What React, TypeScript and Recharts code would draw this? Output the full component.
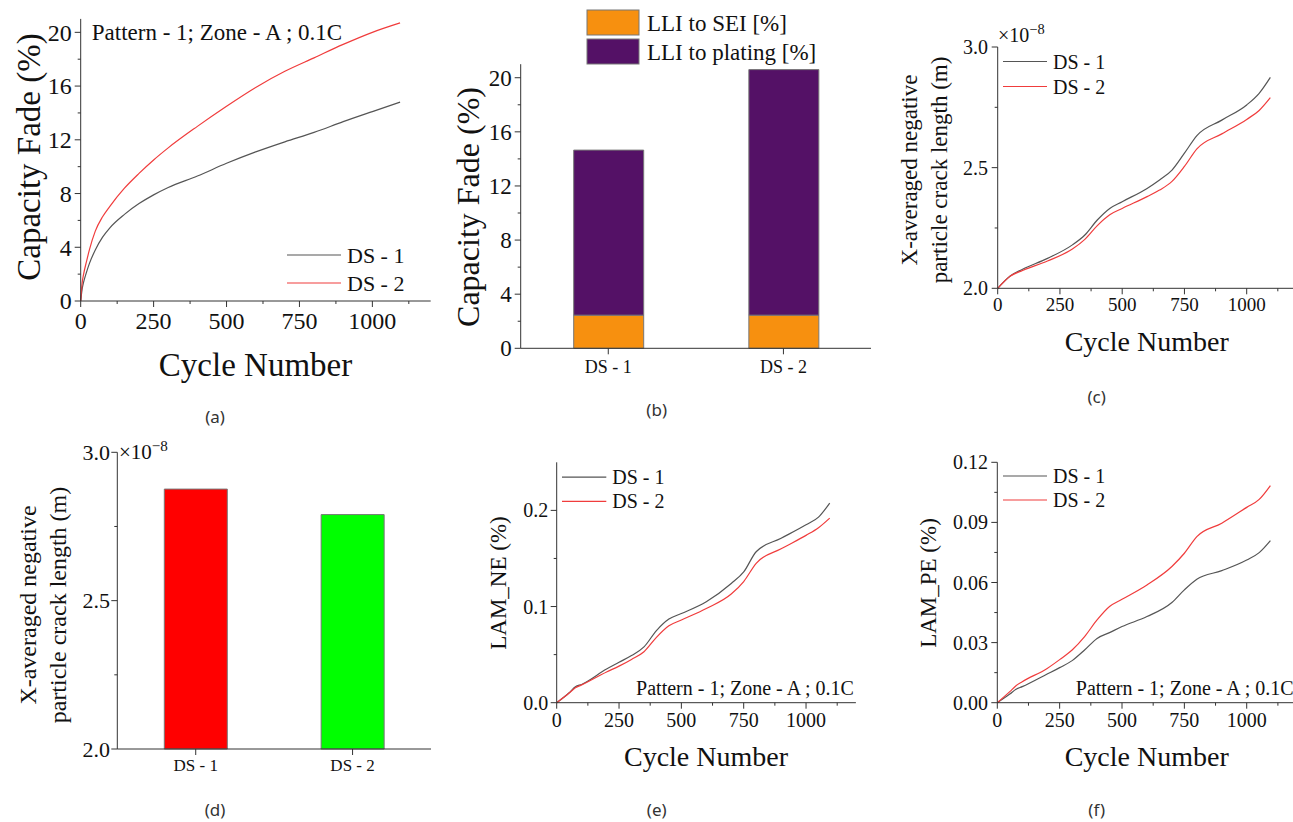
import { LineChart, Line, BarChart, Bar, Cell, XAxis, YAxis, Legend } from "recharts";

const SERIF = '"Liberation Serif", "Times New Roman", serif';
const SANS = '"Noto Sans", "DejaVu Sans", sans-serif';
const AXIS = "#333";
const INK = "#111";
const GRAY = "#555";
const RED = "#f03c3c";

// (a) capacity fade vs cycle
const fadeCycles = [0, 5, 10, 20, 30, 50, 75, 100, 150, 200, 250, 300, 400, 500, 600, 700, 800, 900, 1000, 1095];
const fadeDs1 = [0, 0.9, 1.4, 2.15, 2.8, 3.8, 4.75, 5.45, 6.45, 7.25, 7.9, 8.45, 9.3, 10.25, 11.1, 11.85, 12.55, 13.35, 14.1, 14.8];
const fadeDs2 = [0, 1.35, 2.0, 2.95, 3.82, 5.2, 6.27, 7.05, 8.4, 9.5, 10.5, 11.4, 13.0, 14.5, 15.9, 17.1, 18.1, 19.1, 20.0, 20.7];

// (b) loss of lithium inventory split
const designs = ["DS - 1", "DS - 2"];
const lliSei = [2.45, 2.45];
const lliPlating = [12.2, 18.15];

// (c) crack length (x 1e-8 m) vs cycle
const crackCycles = [0, 50, 100, 200, 300, 350, 400, 450, 500, 600, 650, 700, 750, 800, 900, 1000, 1050, 1095];
const crackDs1 = [2.0, 2.051, 2.079, 2.124, 2.18, 2.221, 2.283, 2.331, 2.359, 2.414, 2.449, 2.49, 2.56, 2.633, 2.697, 2.76, 2.808, 2.874];
const crackDs2 = [2.0, 2.05, 2.074, 2.113, 2.163, 2.203, 2.26, 2.305, 2.331, 2.38, 2.407, 2.443, 2.505, 2.578, 2.64, 2.7, 2.737, 2.79];

// (d) final crack length (x 1e-8 m)
const crackFinal = [2.876, 2.79];
const crackBarColors = ["#ff0000", "#00ff00"];

// (e), (f) loss of active material
const lamCycles = [0, 50, 75, 100, 200, 250, 300, 350, 400, 450, 500, 600, 700, 750, 800, 900, 1000, 1050, 1095];
const lamNeDs1 = [0, 0.0104, 0.0166, 0.019, 0.035, 0.042, 0.049, 0.058, 0.075, 0.087, 0.0927, 0.105, 0.124, 0.136, 0.157, 0.171, 0.185, 0.193, 0.2076];
const lamNeDs2 = [0, 0.01, 0.0155, 0.0185, 0.032, 0.038, 0.045, 0.053, 0.068, 0.08, 0.086, 0.098, 0.113, 0.126, 0.145, 0.16, 0.174, 0.182, 0.192];
const lamPeDs1 = [0, 0.0043, 0.0067, 0.008, 0.0143, 0.0175, 0.021, 0.0263, 0.0321, 0.035, 0.038, 0.043, 0.05, 0.0563, 0.0616, 0.0659, 0.0712, 0.0749, 0.0809];
const lamPeDs2 = [0, 0.0055, 0.0085, 0.0105, 0.0171, 0.0215, 0.0263, 0.033, 0.0413, 0.048, 0.0516, 0.0588, 0.068, 0.0746, 0.0829, 0.0896, 0.0975, 0.1015, 0.1084];

const cycleTicks = [0, 125, 250, 375, 500, 625, 750, 875, 1000, 1125];
const fadeTicks = [0, 2, 4, 6, 8, 10, 12, 14, 16, 18, 20];
const crackTicks = [2.0, 2.25, 2.5, 2.75, 3.0];
const lamNeTicks = [0, 0.05, 0.1, 0.15, 0.2];
const lamPeTicks = [0, 0.015, 0.03, 0.045, 0.06, 0.075, 0.09, 0.105, 0.12];

const lineRows = (cycles: number[], a: number[], b: number[]) =>
  cycles.map((cycle, i) => ({ cycle, ds1: a[i], ds2: b[i] }));

const isMajor = (v: number, step: number) => Math.abs(v / step - Math.round(v / step)) < 1e-6;

type Box = { left: number; top: number; width: number; height: number };
type Plot = { x0: number; x1: number; y0: number; y1: number };
const Y_W = 40;
const X_H = 30;

function marginFor(box: Box, plot: Plot) {
  return {
    left: plot.x0 - box.left - Y_W,
    top: plot.y0 - box.top,
    right: box.left + box.width - plot.x1,
    bottom: box.top + box.height - plot.y1 - X_H,
  };
}

function bottomTick(step: number, digits: number, fontSize: number, gap: number) {
  return (p: any) => {
    const v = Number(p.payload.value);
    const major = isMajor(v, step);
    return (
      <g>
        <line x1={p.x} x2={p.x} y1={p.y} y2={p.y + (major ? 6 : 3)} stroke={AXIS} />
        {major && (
          <text x={p.x} y={p.y + gap} dy="0.7em" textAnchor="middle" fontSize={fontSize} fontFamily={SERIF} fill={INK}>
            {v.toFixed(digits)}
          </text>
        )}
      </g>
    );
  };
}

function leftTick(step: number, digits: number, fontSize: number, gap: number) {
  return (p: any) => {
    const v = Number(p.payload.value);
    const major = isMajor(v, step);
    return (
      <g>
        <line x1={p.x - (major ? 6 : 3)} x2={p.x} y1={p.y} y2={p.y} stroke={AXIS} />
        {major && (
          <text x={p.x - gap} y={p.y} dy="0.35em" textAnchor="end" fontSize={fontSize} fontFamily={SERIF} fill={INK}>
            {v.toFixed(digits)}
          </text>
        )}
      </g>
    );
  };
}

function categoryTick(fontSize: number, gap: number) {
  return (p: any) => (
    <g>
      <line x1={p.x} x2={p.x} y1={p.y} y2={p.y + 6} stroke={AXIS} />
      <text x={p.x} y={p.y + gap} dy="0.7em" textAnchor="middle" fontSize={fontSize} fontFamily={SERIF} fill={INK}>
        {p.payload.value}
      </text>
    </g>
  );
}

function lineLegend(sample: number, rowGap: number, fontSize: number) {
  return (props: any) => {
    const items = props.payload || [];
    return (
      <svg width={sample + 90} height={rowGap * items.length} style={{ display: "block", overflow: "visible" }}>
        {items.map((it: any, i: number) => {
          const cy = rowGap / 2 + i * rowGap;
          return (
            <g key={i}>
              <line x1={0} x2={sample} y1={cy} y2={cy} stroke={it.color} strokeWidth={1.2} />
              <text x={sample + 6} y={cy} dy="0.35em" fontSize={fontSize} fontFamily={SERIF} fill={INK}>
                {it.value}
              </text>
            </g>
          );
        })}
      </svg>
    );
  };
}

function barLegend(props: any) {
  const items = props.payload || [];
  return (
    <svg width={260} height={29 * items.length} style={{ display: "block", overflow: "visible" }}>
      {items.map((it: any, i: number) => {
        const top = 2 + i * 29;
        return (
          <g key={i}>
            <rect x={0} y={top} width={52} height={25} fill={it.color} stroke="#777" />
            <text x={60} y={top + 12.5} dy="0.35em" fontSize={23} fontFamily={SERIF} fill={INK}>
              {it.value}
            </text>
          </g>
        );
      })}
    </svg>
  );
}

function Note(props: {
  x: number;
  y: number;
  size: number;
  rotate?: boolean;
  font?: string;
  lh?: number;
  children: any;
}) {
  return (
    <div
      style={{
        position: "absolute",
        left: props.x,
        top: props.y,
        transform: `translate(-50%, -50%)${props.rotate ? " rotate(-90deg)" : ""}`,
        fontSize: props.size,
        fontFamily: props.font || SERIF,
        lineHeight: props.lh ? `${props.lh}px` : 1,
        whiteSpace: "nowrap",
        textAlign: "center",
        color: props.font === SANS ? "#333" : INK,
      }}
    >
      {props.children}
    </div>
  );
}

type CyclePanelProps = {
  box: Box;
  plot: Plot;
  rows: any[];
  yDomain: [number, number];
  yTicks: number[];
  yStep: number;
  yDigits: number;
  yFont: number;
  yGap: number;
  xFont: number;
  xGap: number;
  legend: { left: number; top: number; sample: number; rowGap: number; font: number };
};

function CyclePanel(p: CyclePanelProps) {
  return (
    <div style={{ position: "absolute", left: p.box.left, top: p.box.top }}>
      <LineChart width={p.box.width} height={p.box.height} data={p.rows} margin={marginFor(p.box, p.plot)}>
        <XAxis
          type="number"
          dataKey="cycle"
          domain={[0, 1200]}
          ticks={cycleTicks}
          interval={0}
          height={X_H}
          tickSize={0}
          tickMargin={0}
          tickLine={false}
          axisLine={{ stroke: AXIS }}
          tick={bottomTick(250, 0, p.xFont, p.xGap)}
        />
        <YAxis
          type="number"
          domain={p.yDomain}
          ticks={p.yTicks}
          interval={0}
          width={Y_W}
          tickSize={0}
          tickMargin={0}
          tickLine={false}
          axisLine={{ stroke: AXIS }}
          tick={leftTick(p.yStep, p.yDigits, p.yFont, p.yGap)}
        />
        <Legend
          layout="vertical"
          align="center"
          verticalAlign="middle"
          wrapperStyle={{ left: p.legend.left, top: p.legend.top, width: 160 }}
          content={lineLegend(p.legend.sample, p.legend.rowGap, p.legend.font)}
        />
        <Line type="monotone" dataKey="ds1" name="DS - 1" stroke={GRAY} strokeWidth={1.2} dot={false} isAnimationActive={false} />
        <Line type="monotone" dataKey="ds2" name="DS - 2" stroke={RED} strokeWidth={1.2} dot={false} isAnimationActive={false} />
      </LineChart>
    </div>
  );
}

export default function App() {
  const boxA: Box = { left: 0, top: 0, width: 440, height: 400 };
  const boxB: Box = { left: 440, top: 0, width: 440, height: 400 };
  const boxC: Box = { left: 880, top: 0, width: 420, height: 400 };
  const boxD: Box = { left: 0, top: 420, width: 440, height: 402 };
  const boxE: Box = { left: 440, top: 420, width: 440, height: 402 };
  const boxF: Box = { left: 880, top: 420, width: 420, height: 402 };

  const lliRows = designs.map((name, i) => ({ name, sei: lliSei[i], plating: lliPlating[i] }));
  const crackRows = designs.map((name, i) => ({ name, crack: crackFinal[i] }));

  return (
    <div
      style={{
        position: "absolute",
        left: 0,
        top: 0,
        width: 1293,
        height: 822,
        overflow: "hidden",
        background: "#fff",
      }}
    >
      {/* (a) */}
      <CyclePanel
        box={boxA}
        plot={{ x0: 80.7, x1: 430.7, y0: 18.9, y1: 301 }}
        rows={lineRows(fadeCycles, fadeDs1, fadeDs2)}
        yDomain={[0, 21]}
        yTicks={fadeTicks}
        yStep={4}
        yDigits={0}
        yFont={24}
        yGap={9}
        xFont={24}
        xGap={11}
        legend={{ left: 287, top: 241, sample: 54, rowGap: 28, font: 22 }}
      />

      {/* (b) */}
      <div style={{ position: "absolute", left: boxB.left, top: boxB.top }}>
        <BarChart
          width={boxB.width}
          height={boxB.height}
          data={lliRows}
          margin={marginFor(boxB, { x0: 520.7, x1: 871, y0: 64.2, y1: 348.3 })}
        >
          <XAxis
            dataKey="name"
            height={X_H}
            tickSize={0}
            tickMargin={0}
            tickLine={false}
            interval={0}
            axisLine={{ stroke: AXIS }}
            tick={categoryTick(18, 12)}
          />
          <YAxis
            type="number"
            domain={[0, 21]}
            ticks={fadeTicks}
            interval={0}
            width={Y_W}
            tickSize={0}
            tickMargin={0}
            tickLine={false}
            axisLine={{ stroke: AXIS }}
            tick={leftTick(4, 0, 23, 9)}
          />
          <Legend
            layout="vertical"
            align="center"
            verticalAlign="middle"
            wrapperStyle={{ left: 147, top: 8, width: 260 }}
            content={barLegend}
          />
          <Bar dataKey="sei" name="LLI to SEI [%]" stackId="lli" fill="#f7900f" stroke="#777" barSize={70} isAnimationActive={false} />
          <Bar dataKey="plating" name="LLI to plating [%]" stackId="lli" fill="#541166" stroke="#777" barSize={70} isAnimationActive={false} />
        </BarChart>
      </div>

      {/* (c) */}
      <CyclePanel
        box={boxC}
        plot={{ x0: 997.7, x1: 1296.5, y0: 47, y1: 288.3 }}
        rows={lineRows(crackCycles, crackDs1, crackDs2)}
        yDomain={[2, 3]}
        yTicks={crackTicks}
        yStep={0.5}
        yDigits={1}
        yFont={20}
        yGap={9.7}
        xFont={19}
        xGap={9}
        legend={{ left: 123, top: 48.5, sample: 44, rowGap: 25, font: 20 }}
      />

      {/* (d) */}
      <div style={{ position: "absolute", left: boxD.left, top: boxD.top }}>
        <BarChart
          width={boxD.width}
          height={boxD.height}
          data={crackRows}
          margin={marginFor(boxD, { x0: 117.3, x1: 431, y0: 452.3, y1: 749 })}
        >
          <XAxis
            dataKey="name"
            height={X_H}
            tickSize={0}
            tickMargin={0}
            tickLine={false}
            interval={0}
            axisLine={{ stroke: AXIS }}
            tick={categoryTick(17, 10)}
          />
          <YAxis
            type="number"
            domain={[2, 3]}
            ticks={crackTicks}
            interval={0}
            width={Y_W}
            tickSize={0}
            tickMargin={0}
            tickLine={false}
            axisLine={{ stroke: AXIS }}
            tick={leftTick(0.5, 1, 22, 7.3)}
          />
          <Bar dataKey="crack" stroke="#777" barSize={63} isAnimationActive={false}>
            {crackRows.map((r, i) => (
              <Cell key={r.name} fill={crackBarColors[i]} />
            ))}
          </Bar>
        </BarChart>
      </div>

      {/* (e) */}
      <CyclePanel
        box={boxE}
        plot={{ x0: 556.7, x1: 855.9, y0: 462.3, y1: 702.7 }}
        rows={lineRows(lamCycles, lamNeDs1, lamNeDs2)}
        yDomain={[0, 0.25]}
        yTicks={lamNeTicks}
        yStep={0.1}
        yDigits={1}
        yFont={20}
        yGap={8.4}
        xFont={20}
        xGap={10}
        legend={{ left: 121.7, top: 44.5, sample: 44.3, rowGap: 24.3, font: 20 }}
      />

      {/* (f) */}
      <CyclePanel
        box={boxF}
        plot={{ x0: 997.3, x1: 1296.6, y0: 462.3, y1: 702.7 }}
        rows={lineRows(lamCycles, lamPeDs1, lamPeDs2)}
        yDomain={[0, 0.12]}
        yTicks={lamPeTicks}
        yStep={0.03}
        yDigits={2}
        yFont={20}
        yGap={9.3}
        xFont={20}
        xGap={10}
        legend={{ left: 122.7, top: 44, sample: 44, rowGap: 24, font: 20 }}
      />

      {/* axis titles and notes */}
      <Note x={217} y={32} size={23}>Pattern - 1; Zone - A ; 0.1C</Note>
      <Note x={29} y={157} size={33} rotate>Capacity Fade (%)</Note>
      <Note x={255.5} y={365} size={33}>Cycle Number</Note>

      <Note x={468.3} y={206.7} size={32} rotate>Capacity Fade (%)</Note>

      <div style={{ position: "absolute", left: 998, top: 22, fontSize: 20, fontFamily: SERIF, color: INK, lineHeight: 1 }}>
        ×10<sup style={{ fontSize: "0.72em" }}>−8</sup>
      </div>
      <Note x={925} y={170} size={23} lh={30} rotate>
        X-averaged negative
        <br />
        particle crack length (m)
      </Note>
      <Note x={1146.7} y={341.7} size={28}>Cycle Number</Note>

      <div style={{ position: "absolute", left: 119, top: 439, fontSize: 21, fontFamily: SERIF, color: INK, lineHeight: 1 }}>
        ×10<sup style={{ fontSize: "0.72em" }}>−8</sup>
      </div>
      <Note x={43.3} y={605} size={24} lh={30} rotate>
        X-averaged negative
        <br />
        particle crack length (m)
      </Note>

      <Note x={498.3} y={583.3} size={23} rotate>LAM_NE (%)</Note>
      <Note x={745} y={688.3} size={20}>Pattern - 1; Zone - A ; 0.1C</Note>
      <Note x={706} y={757} size={28}>Cycle Number</Note>

      <Note x={928.3} y={583.3} size={23} rotate>LAM_PE (%)</Note>
      <Note x={1184.7} y={688.3} size={20}>Pattern - 1; Zone - A ; 0.1C</Note>
      <Note x={1146.7} y={757} size={28}>Cycle Number</Note>

      <Note x={215} y={416} size={17} font={SANS}>(a)</Note>
      <Note x={656.7} y={409} size={17} font={SANS}>(b)</Note>
      <Note x={1096.7} y={396} size={17} font={SANS}>(c)</Note>
      <Note x={215} y={809} size={17} font={SANS}>(d)</Note>
      <Note x={656.7} y={809} size={17} font={SANS}>(e)</Note>
      <Note x={1096.7} y={809} size={17} font={SANS}>(f)</Note>
    </div>
  );
}
